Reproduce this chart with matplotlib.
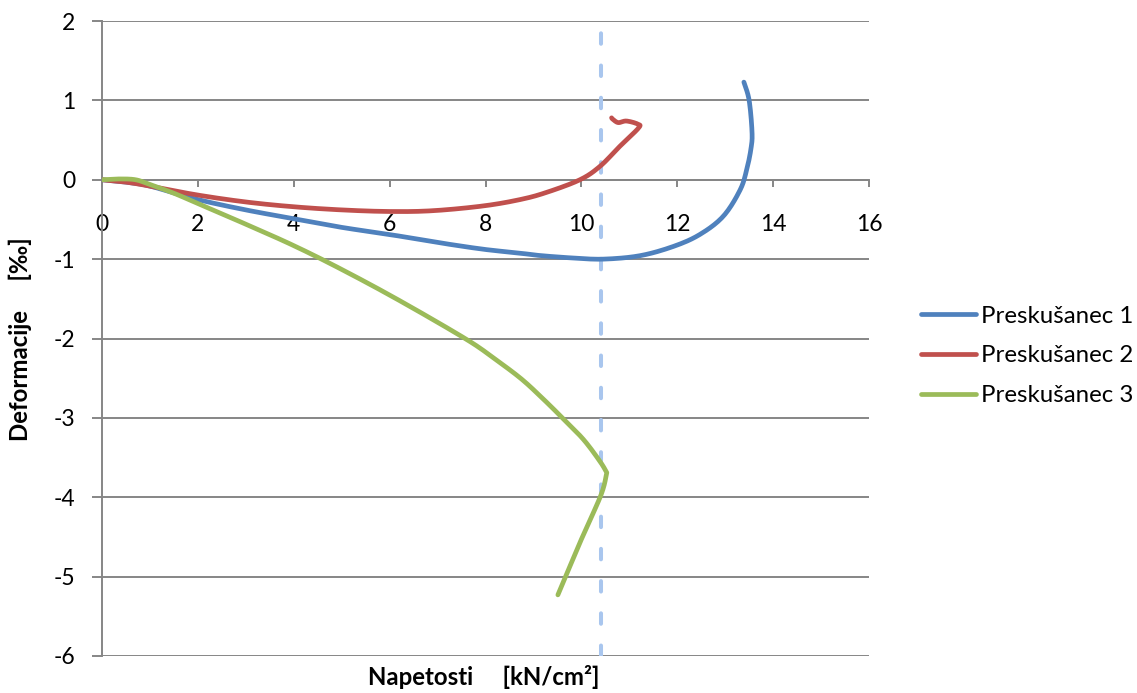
import matplotlib
matplotlib.use("Agg")
import matplotlib.pyplot as plt
import numpy as np

plt.rcParams['font.family'] = ['Lato', 'DejaVu Sans']

# Stress [kN/cm²] vs. strain [‰] for the three specimens
s1_x = [0.0, 0.5, 1.0, 1.97, 3.0, 3.99, 5.0, 6.0, 7.0, 7.95, 8.72, 9.14, 9.83, 10.46,
        11.22, 11.92, 12.47, 12.96, 13.31, 13.45, 13.54, 13.56, 13.5, 13.39]
s1_y = [0.0, -0.03, -0.08, -0.245, -0.38, -0.49, -0.6, -0.69, -0.79, -0.875, -0.925, -0.955, -0.986, -1.0,
        -0.957, -0.84, -0.69, -0.46, -0.13, 0.13, 0.4, 0.6, 1.0, 1.23]

s2_x = [0.0, 0.5, 1.0, 1.97, 3.0, 3.99, 5.0, 6.0, 6.9, 7.95, 8.72, 9.27, 9.97,
        10.39, 10.8, 11.19, 11.18, 10.94, 10.77, 10.66, 10.63]
s2_y = [0.0, -0.03, -0.08, -0.19, -0.28, -0.34, -0.38, -0.40, -0.39, -0.33, -0.25, -0.16, 0.0,
        0.17, 0.42, 0.65, 0.70, 0.74, 0.72, 0.76, 0.78]

# specimen 3 rises to a peak, then unloads along a nearly straight branch
s3_x = [0.0, 0.35, 0.7, 1.0, 1.5, 2.0, 3.0, 4.0, 5.0, 6.2, 7.6, 8.2, 8.75, 9.2,
        9.57, 10.04, 10.39, 10.53, 10.41, 10.0, 9.51]
s3_y = [0.0, 0.01, 0.0, -0.06, -0.17, -0.3, -0.56, -0.83, -1.13, -1.52, -2.01, -2.26, -2.51, -2.76,
        -2.98, -3.27, -3.55, -3.69, -3.97, -4.53, -5.23]
s3_peak = 17

series_names = ["Preskušanec 1", "Preskušanec 2", "Preskušanec 3"]
series_colors = ["#4F81BD", "#C0504D", "#9BBB59"]
limit_stress = 10.4

x_ticks = [0, 2, 4, 6, 8, 10, 12, 14, 16]
y_ticks = [2, 1, 0, -1, -2, -3, -4, -5, -6]


def smooth(xs, ys, n=12):
    """Catmull-Rom spline through the measured points (smoothed line)."""
    pts = np.column_stack([xs, ys]).astype(float)
    pts = np.vstack([pts[0], pts, pts[-1]])
    out = []
    for i in range(1, len(pts) - 2):
        p0, p1, p2, p3 = pts[i - 1], pts[i], pts[i + 1], pts[i + 2]
        for t in np.linspace(0, 1, n, endpoint=False):
            t2, t3 = t * t, t * t * t
            out.append(0.5 * ((2 * p1) + (-p0 + p2) * t + (2 * p0 - 5 * p1 + 4 * p2 - p3) * t2
                              + (-p0 + 3 * p1 - 3 * p2 + p3) * t3))
    out.append(pts[-2])
    out = np.array(out)
    return out[:, 0], out[:, 1]


fig = plt.figure(figsize=(11.37, 6.93), dpi=100)
ax = fig.add_axes([102 / 1137, 1 - 656 / 693, (869 - 102) / 1137, (656 - 21) / 693])

grid_color = "#868686"
for yv in y_ticks:
    ax.axhline(yv, color=grid_color, lw=1.4, zorder=1)

ax.axvline(limit_stress, color="#A9C6EE", lw=2.9, dashes=(2.6, 5.4),
           dash_capstyle="round", zorder=2)

curves = []
for xs, ys in [(s1_x, s1_y), (s2_x, s2_y)]:
    curves.append(smooth(xs, ys))
ax3, ay3 = smooth(s3_x[:s3_peak + 1], s3_y[:s3_peak + 1])
bx3, by3 = smooth(s3_x[s3_peak:], s3_y[s3_peak:])
curves.append((np.concatenate([ax3, bx3[1:]]), np.concatenate([ay3, by3[1:]])))

for (sx, sy), name, col in zip(curves, series_names, series_colors):
    ax.plot(sx, sy, color=col, lw=3.4, label=name, solid_capstyle='round',
            solid_joinstyle='round', zorder=3)

ax.set_xlim(0, 16)
ax.set_ylim(-6, 2)
ax.set_xticks(x_ticks)
ax.set_yticks(y_ticks)
ax.set_xticklabels([str(v) for v in x_ticks])
ax.set_yticklabels([str(v) for v in y_ticks])

for side in ["top", "right"]:
    ax.spines[side].set_visible(False)
ax.spines["bottom"].set_position(("data", 0))
for side in ["bottom", "left"]:
    ax.spines[side].set_color(grid_color)
    ax.spines[side].set_linewidth(1.4)

ax.tick_params(axis="x", direction="out", length=5, width=1.4, color=grid_color,
               labelsize=16.5, pad=20)
ax.tick_params(axis="y", direction="out", length=7, width=1.4, color=grid_color,
               labelsize=16.5, pad=12)

fig.text(484 / 1137, 1 - 677 / 693, "Napetosti     [kN/cm²]", ha="center", va="center",
         fontsize=17.3, fontweight="bold")
fig.text(20 / 1137, 1 - 339 / 693, "Deformacije     [‰]", ha="center", va="center",
         rotation=90, fontsize=17.3, fontweight="bold")

leg = ax.legend(loc="center left", bbox_to_anchor=(921 / 1137, 1 - 356 / 693),
                bbox_transform=fig.transFigure, frameon=False, fontsize=17.3,
                handlelength=2.3, handletextpad=0.2, labelspacing=0.78,
                borderpad=0, borderaxespad=0)
for line in leg.get_lines():
    line.set_linewidth(3.4)

fig.savefig("out.png", dpi=100)
